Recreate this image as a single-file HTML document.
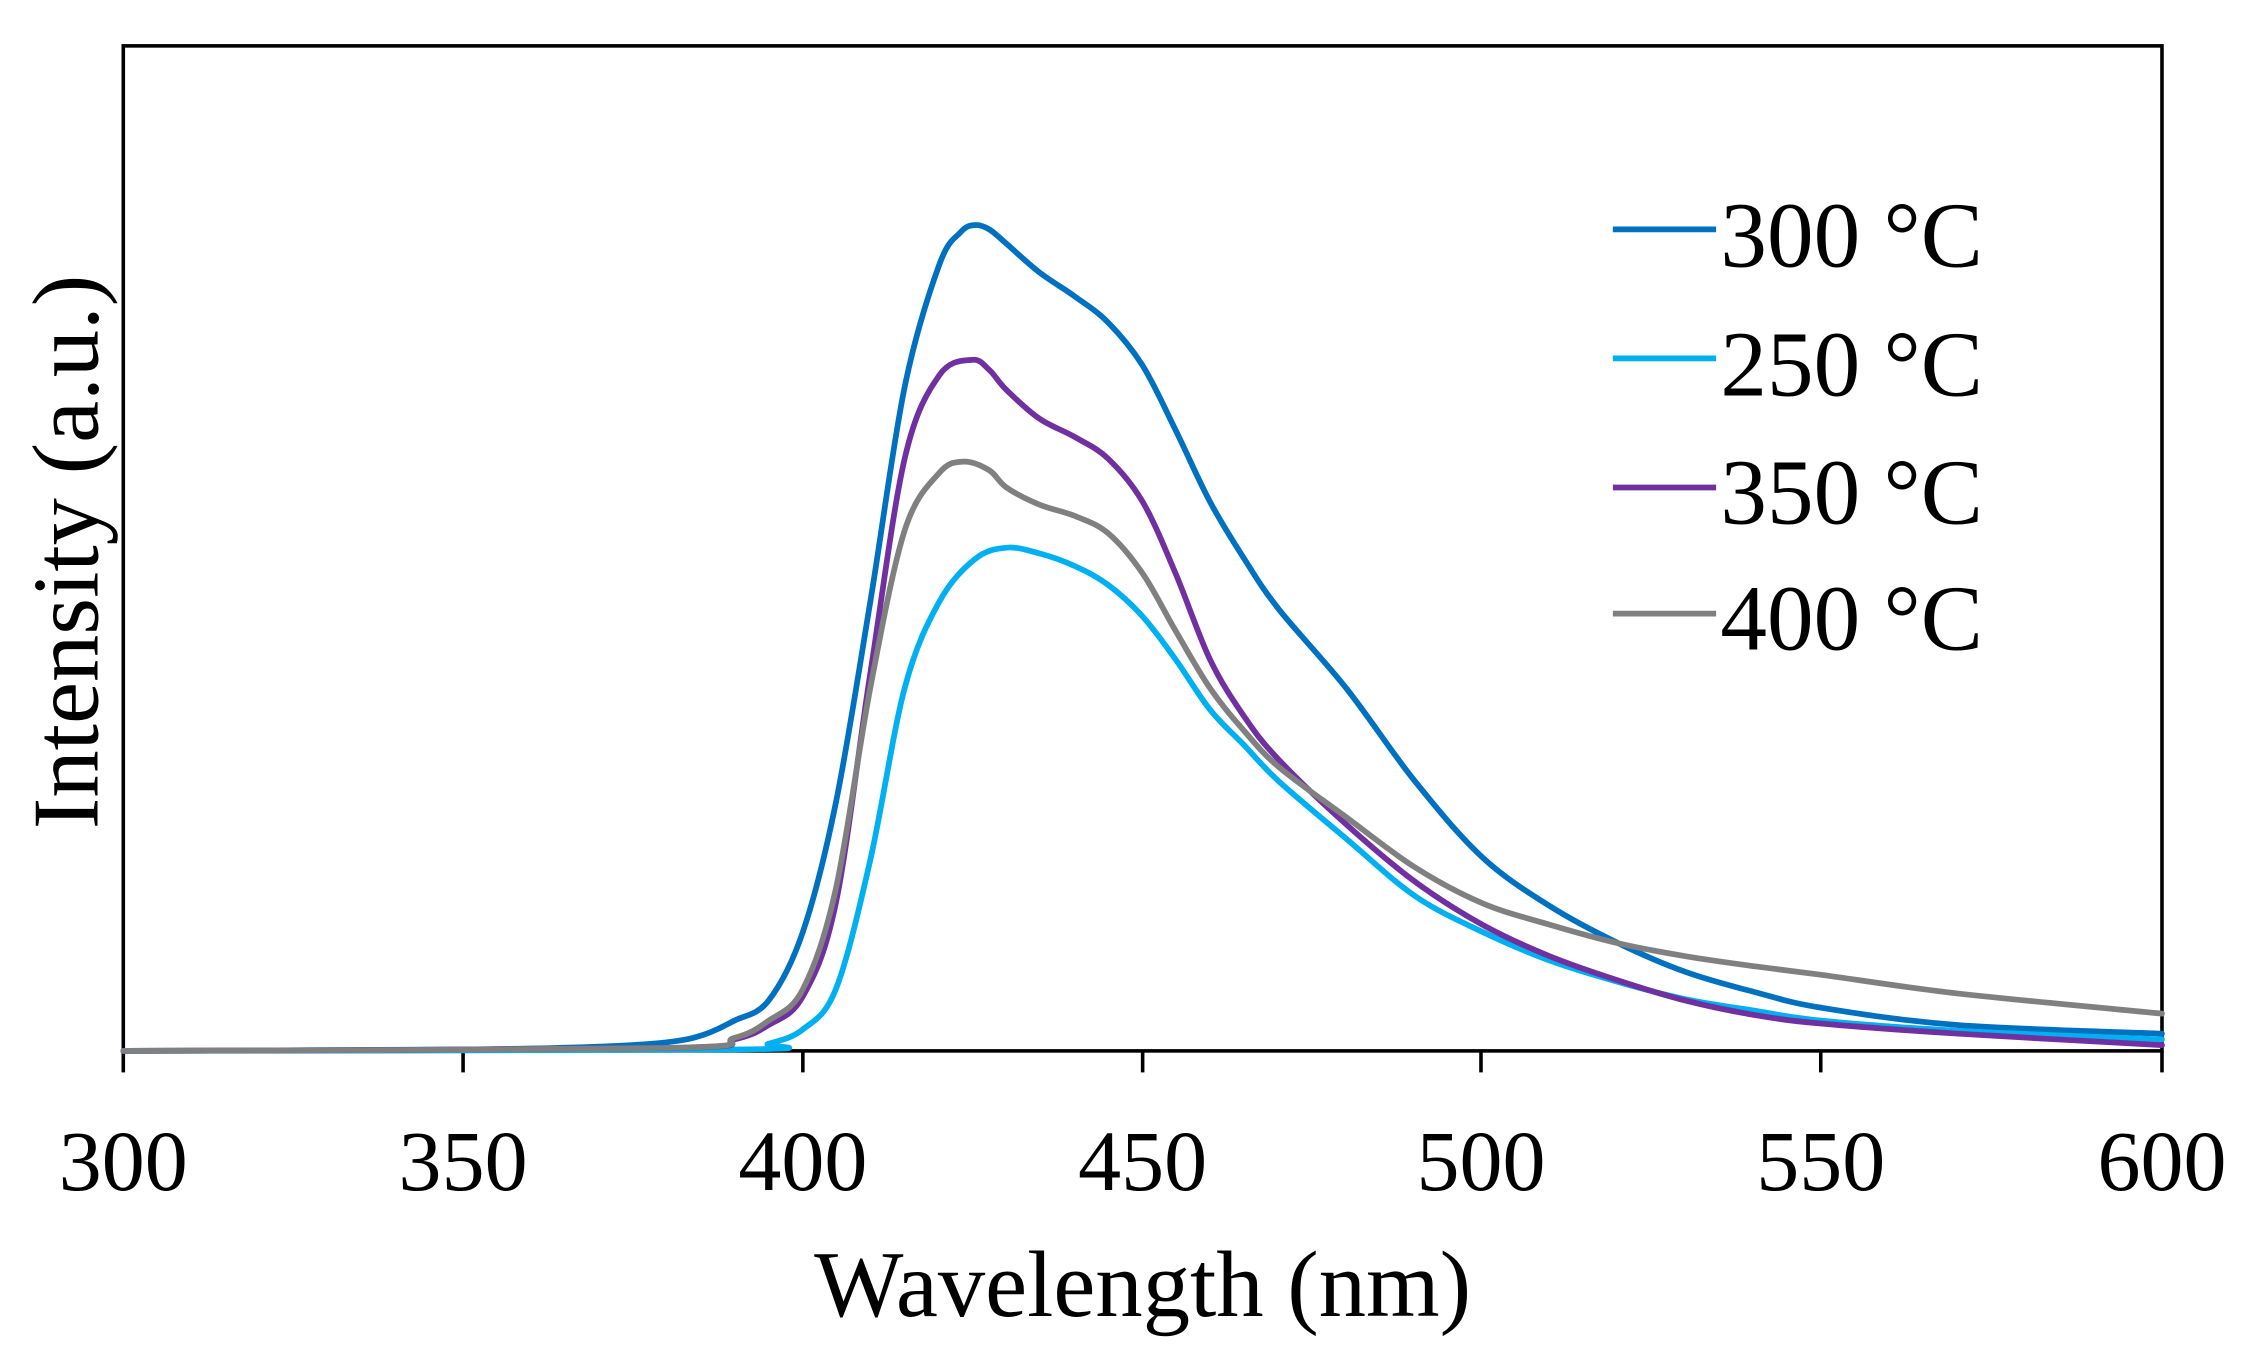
<!DOCTYPE html>
<html><head><style>html,body{margin:0;padding:0;background:#fff;}svg{display:block}</style></head>
<body>
<svg id="s" width="2248" height="1361" viewBox="0 0 1568 949.3" preserveAspectRatio="none" xmlns="http://www.w3.org/2000/svg" font-family="'Liberation Serif', serif">
<rect x="86" y="32" width="1422" height="701" fill="none" stroke="#000" stroke-width="2.5"/>
<g stroke="#000" stroke-width="2.5">
<line x1="86" y1="733" x2="86" y2="748"/><line x1="323" y1="733" x2="323" y2="748"/><line x1="560" y1="733" x2="560" y2="748"/><line x1="797" y1="733" x2="797" y2="748"/><line x1="1033" y1="733" x2="1033" y2="748"/><line x1="1270" y1="733" x2="1270" y2="748"/><line x1="1508" y1="733" x2="1508" y2="748"/>
</g>
<g font-size="60" text-anchor="middle" fill="#000">
<text x="86" y="830">300</text><text x="323" y="830">350</text><text x="560" y="830">400</text><text x="797" y="830">450</text><text x="1033" y="830">500</text><text x="1270" y="830">550</text><text x="1508" y="830">600</text>
</g>
<text x="797" y="918" font-size="66" text-anchor="middle">Wavelength (nm)</text>
<text transform="translate(68,385) rotate(-90)" font-size="66" text-anchor="middle">Intensity (a.u.)</text>
<g id="curves" fill="none" stroke-width="4" stroke-linejoin="round" stroke-linecap="round"></g>
<g stroke-width="4">
<line x1="1125" y1="160" x2="1197" y2="160" stroke="#0070c0"/>
<line x1="1125" y1="250" x2="1197" y2="250" stroke="#00b0f0"/>
<line x1="1125" y1="340" x2="1197" y2="340" stroke="#7030a0"/>
<line x1="1125" y1="428" x2="1197" y2="428" stroke="#808080"/>
</g>
<g font-size="65" fill="#000">
<text x="1200" y="186">300 °C</text><text x="1200" y="276">250 °C</text><text x="1200" y="365">350 °C</text><text x="1200" y="453">400 °C</text>
</g>
</svg>
<script>
var data=[
["#0070c0","86,733 323,732 418,730 465,727 490,722 512,712 536,698 560,650 583,560 607,420 631,270 655,185 670,162 680,157 690,160 702,170 725,190 750,207 773,225 797,255 820,300 844,350 868,390 892,425 939,480 987,545 1034,598 1081,632 1129,658 1176,678 1224,692 1271,703 1366,715 1508,721"],
["#00b0f0","86,733 512,732 536,728 560,718 583,690 607,600 631,480 655,420 680,390 702,382 725,386 750,395 773,408 797,430 820,460 844,495 868,520 892,545 939,585 987,625 1034,650 1081,670 1129,685 1176,697 1224,705 1271,712 1366,719 1508,725"],
["#7030a0","86,733 465,731 512,725 536,715 560,695 583,630 607,470 631,320 655,262 678,251 690,258 702,272 725,292 750,305 773,320 797,350 820,400 844,460 868,500 892,530 939,575 987,615 1034,645 1081,667 1129,684 1176,698 1224,708 1271,714 1366,721 1508,729"],
["#808080","86,733 465,731 512,724 536,712 560,690 583,620 607,480 631,370 655,330 672,322 690,328 702,340 725,352 750,360 773,372 797,400 820,440 844,480 868,510 892,535 939,570 987,605 1034,630 1081,645 1129,658 1176,667 1224,674 1271,680 1366,693 1508,707"]];
var g=document.getElementById("curves");
data.forEach(function(d){
var p=d[1].split(" ").map(function(s){return s.split(",").map(Number);});
var s="M"+p[0][0]+","+p[0][1];
for(var i=0;i<p.length-1;i++){
var p0=p[i-1]||p[i],p1=p[i],p2=p[i+1],p3=p[i+2]||p2;
var c1=[p1[0]+(p2[0]-p0[0])/6,p1[1]+(p2[1]-p0[1])/6];
var c2=[p2[0]-(p3[0]-p1[0])/6,p2[1]-(p3[1]-p1[1])/6];
s+=" C"+c1+" "+c2+" "+p2;}
var e=document.createElementNS("http://www.w3.org/2000/svg","path");
e.setAttribute("d",s);e.setAttribute("stroke",d[0]);g.appendChild(e);});
</script>
</body></html>
